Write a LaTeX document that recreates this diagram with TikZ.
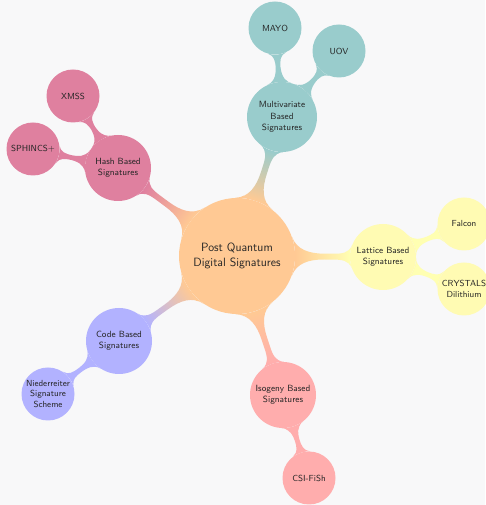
\documentclass[tikz,border=0pt]{standalone}
\usetikzlibrary{mindmap}

\definecolor{pagebg}{RGB}{248,248,249}
\colorlet{inkc}{black!85}
\colorlet{rootc}{orange!42}
\colorlet{hashc}{purple!50}
\colorlet{multc}{teal!40}
\colorlet{latc}{yellow!30}
\colorlet{codec}{blue!30}
\colorlet{isoc}{red!32}

\pgfdeclarelayer{paper}
\pgfdeclarelayer{links}
\pgfsetlayers{paper,links,main}

\tikzset{
  bubble/.style={circle, inner sep=0pt, align=center, text=inkc},
  hub/.style={bubble, minimum size=116pt,
    font=\sffamily\fontsize{12}{15}\selectfont},
  branch/.style={bubble, minimum size=66pt,
    font=\sffamily\fontsize{9}{11.5}\selectfont},
  leaf/.style={bubble, minimum size=53pt,
    font=\sffamily\fontsize{8.8}{10.2}\selectfont},
  link/.style={line width=7pt},
}

\begin{document}
\begin{tikzpicture}[x=1pt, y=1pt]
  \useasboundingbox (0,0) rectangle (485,505);
  \begin{pgfonlayer}{paper}
    \fill[pagebg] (0,0) rectangle (485,505);
  \end{pgfonlayer}

  % centre
  \node[hub, fill=rootc] (root) at (237,249) {Post Quantum\\Digital Signatures};

  % hash based branch
  \node[branch, fill=hashc] (hash) at (118,337) {Hash Based\\Signatures};
  \node[leaf, fill=hashc] (xmss) at (73,409) {XMSS};
  \node[leaf, fill=hashc] (sphincs) at (33,356) {SPHINCS+};

  % multivariate branch
  \node[branch, fill=multc, minimum size=70pt] (multi) at (282,388) {Multivariate\\Based\\Signatures};
  \node[leaf, fill=multc] (mayo) at (275,477) {MAYO};
  \node[leaf, fill=multc] (uov) at (339,454) {UOV};

  % lattice branch
  \node[branch, fill=latc] (lattice) at (383,248) {Lattice Based\\Signatures};
  \node[leaf, fill=latc] (falcon) at (464,281) {Falcon};
  \node[leaf, fill=latc] (crystals) at (464,216) {CRYSTALS\\Dilithium};

  % code based branch
  \node[branch, fill=codec] (code) at (119,164) {Code Based\\Signatures};
  \node[leaf, fill=codec] (nieder) at (48,111) {Niederreiter\\Signature\\Scheme};

  % isogeny branch
  \node[branch, fill=isoc] (iso) at (283,110) {Isogeny Based\\Signatures};
  \node[leaf, fill=isoc] (csi) at (309,27) {CSI-FiSh};

  % connection bars, kept behind the bubbles
  \begin{pgfonlayer}{links}
    \path[link] (root) to[circle connection bar switch color=from (rootc) to (hashc)] (hash);
    \path[link] (root) to[circle connection bar switch color=from (rootc) to (multc)] (multi);
    \path[link] (root) to[circle connection bar switch color=from (rootc) to (latc)] (lattice);
    \path[link] (root) to[circle connection bar switch color=from (rootc) to (codec)] (code);
    \path[link] (root) to[circle connection bar switch color=from (rootc) to (isoc)] (iso);

    \path[link] (hash) to[circle connection bar switch color=from (hashc) to (hashc)] (xmss);
    \path[link] (hash) to[circle connection bar switch color=from (hashc) to (hashc)] (sphincs);
    \path[link] (multi) to[circle connection bar switch color=from (multc) to (multc)] (mayo);
    \path[link] (multi) to[circle connection bar switch color=from (multc) to (multc)] (uov);
    \path[link] (lattice) to[circle connection bar switch color=from (latc) to (latc)] (falcon);
    \path[link] (lattice) to[circle connection bar switch color=from (latc) to (latc)] (crystals);
    \path[link] (code) to[circle connection bar switch color=from (codec) to (codec)] (nieder);
    \path[link] (iso) to[circle connection bar switch color=from (isoc) to (isoc)] (csi);
  \end{pgfonlayer}
\end{tikzpicture}
\end{document}
